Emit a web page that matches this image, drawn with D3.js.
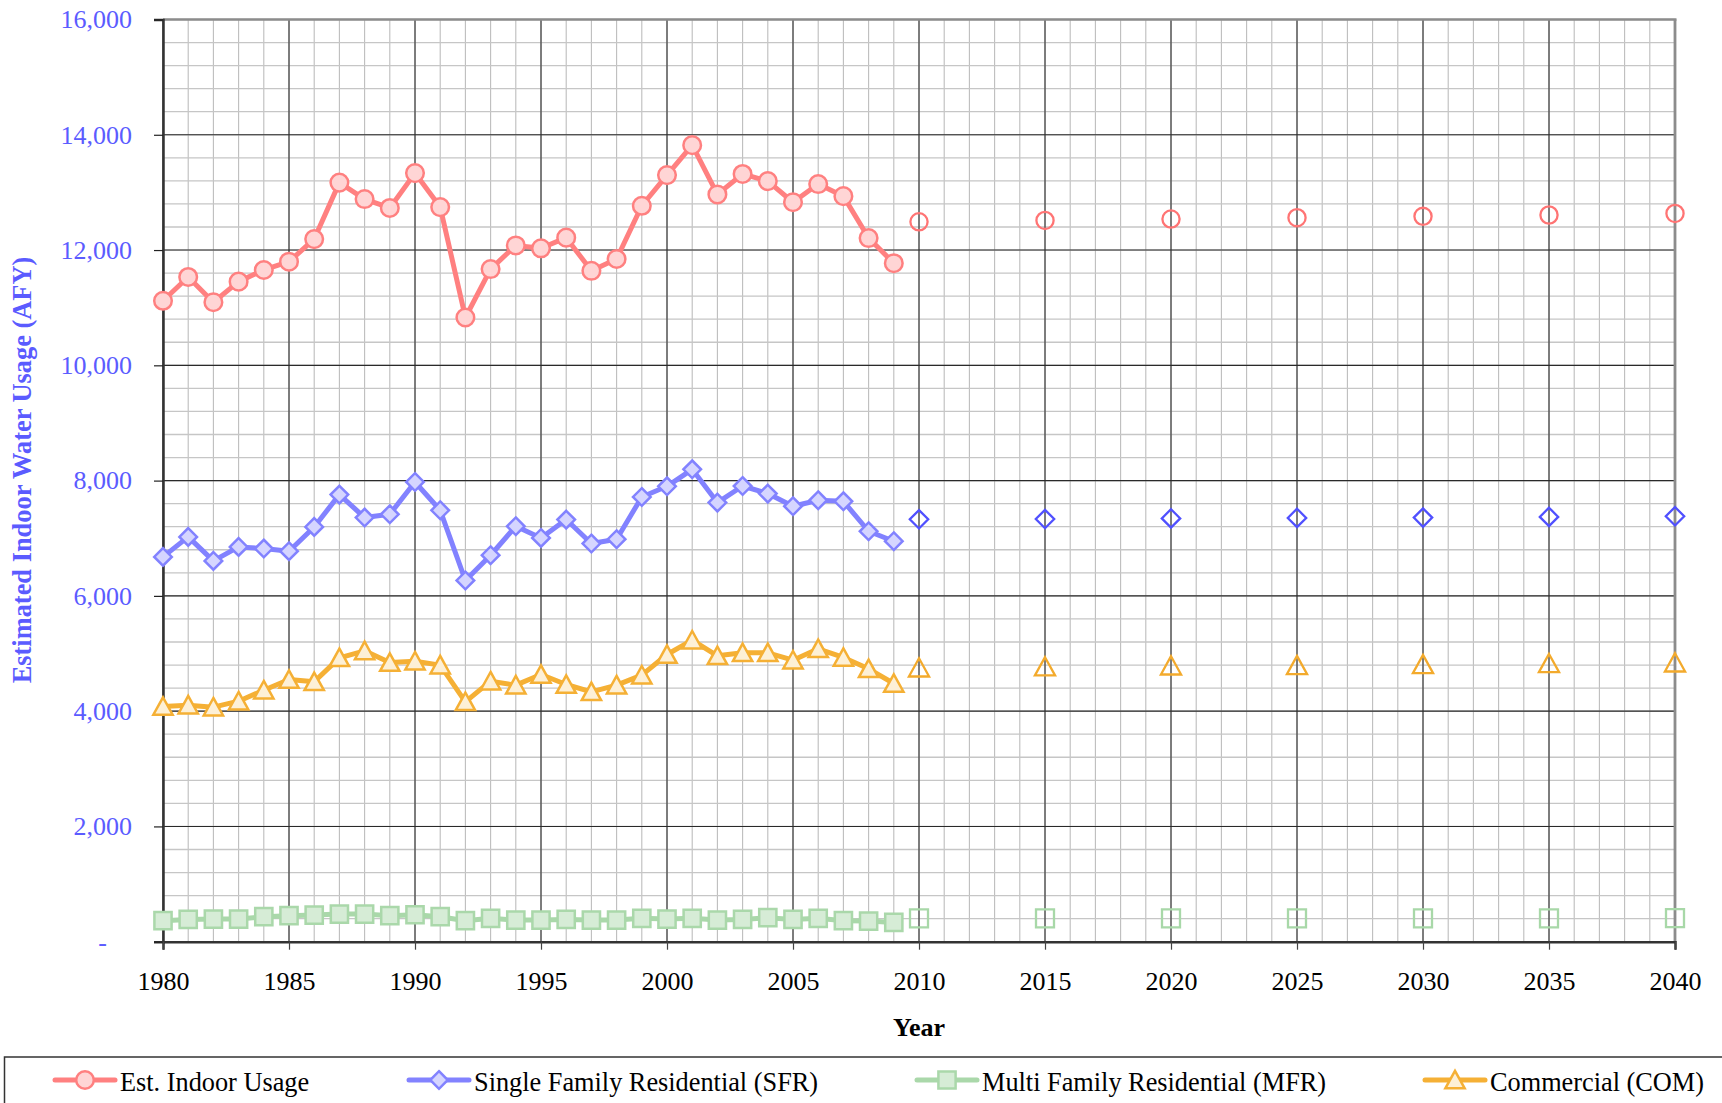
<!DOCTYPE html>
<html><head><meta charset="utf-8">
<script src="https://cdn.jsdelivr.net/npm/d3@7/dist/d3.min.js"></script>
<style>
html,body{margin:0;padding:0;background:#fff;}
svg{display:block;font-family:"Liberation Serif","Times New Roman",serif;}
svg text{font-family:"Liberation Serif","Times New Roman",serif !important;}
</style></head><body>
<svg id="chart" width="1722" height="1103"></svg>
<script>
// ---- data ----
const histYears = [1980,1981,1982,1983,1984,1985,1986,1987,1988,1989,1990,1991,1992,1993,1994,1995,1996,1997,1998,1999,2000,2001,2002,2003,2004,2005,2006,2007,2008,2009];
const projYears = [2010,2015,2020,2025,2030,2035,2040];

const indoorHist = [11120,11533,11095,11452,11654,11798,12190,13170,12885,12730,13335,12745,10830,11670,12080,12030,12215,11640,11845,12768,13300,13820,12965,13320,13195,12830,13145,12935,12208,11772];
const indoorProj = [12490,12514,12538,12562,12585,12608,12635];

const sfrHist = [6676,7023,6607,6850,6821,6775,7196,7757,7359,7416,7976,7485,6267,6705,7208,7005,7324,6908,6983,7716,7901,8196,7619,7906,7775,7555,7659,7641,7121,6948];
const sfrProj = [7329,7333,7344,7352,7358,7370,7381];

const mfrHist = [364,387,393,393,434,451,462,480,480,451,468,434,364,405,376,376,387,376,376,405,393,405,376,387,416,387,405,364,358,335];
const mfrProj = [405,405,405,405,405,405,408];

const comHist = [4081,4104,4069,4173,4364,4549,4509,4925,5046,4844,4867,4798,4162,4520,4451,4636,4462,4335,4451,4624,4983,5231,4960,5012,5012,4884,5081,4931,4734,4480];
const comProj = [4751,4769,4786,4792,4809,4826,4838];

const seriesNames = ["Est. Indoor Usage","Single Family Residential (SFR)","Multi Family Residential (MFR)","Commercial (COM)"];
const xTickLabels = [1980,1985,1990,1995,2000,2005,2010,2015,2020,2025,2030,2035,2040];
const yTickValues = [0,2000,4000,6000,8000,10000,12000,14000,16000];
const xTitle = "Year";
const yTitle = "Estimated Indoor Water Usage (AFY)";

// ---- layout ----
const svg = d3.select("#chart");
const L = 163, R = 1675, T = 19.5, B = 941.7;
const x = d3.scaleLinear().domain([1980, 2040]).range([L, R]);
const y = d3.scaleLinear().domain([0, 16000]).range([B, T]);
const FONT = "'Liberation Serif','Times New Roman',serif";

const styles = [
  {line:"#ff8080", fill:"#ffd5d5", stroke:"#ff8080", proj:"#ff7474", shape:"circle"},
  {line:"#8282ff", fill:"#d5d5ff", stroke:"#8282ff", proj:"#5050ff", shape:"diamond"},
  {line:"#aad8aa", fill:"#d6ecd6", stroke:"#aad8aa", proj:"#a8d8a8", shape:"square"},
  {line:"#f5b035", fill:"#fdf0d6", stroke:"#f5b035", proj:"#f3aa2c", shape:"triangle"}
];
const series = [
  {name:seriesNames[0], hist:indoorHist, proj:indoorProj, st:styles[0]},
  {name:seriesNames[1], hist:sfrHist, proj:sfrProj, st:styles[1]},
  {name:seriesNames[2], hist:mfrHist, proj:mfrProj, st:styles[2]},
  {name:seriesNames[3], hist:comHist, proj:comProj, st:styles[3]}
];

function markerPath(shape, s) {
  if (shape === "circle") { const p = d3.path(); p.arc(0,0,s,0,Math.PI*2); p.closePath(); return p.toString(); }
  if (shape === "diamond") return `M0,${-s}L${s},0L0,${s}L${-s},0Z`;
  if (shape === "square") return `M${-s},${-s}H${s}V${s}H${-s}Z`;
  if (shape === "triangle") return `M0,${-s*1.0}L${s*1.05},${s*0.9}L${-s*1.05},${s*0.9}Z`;
}
const histSize = {circle:8.8, diamond:8.8, square:8.6, triangle:9.2};
const projSize = {circle:8.6, diamond:9.2, square:9.0, triangle:9.6};

// ---- grid ----
const grid = svg.append("g");
grid.selectAll(".vminor").data(d3.range(1980, 2041)).enter().append("line")
  .attr("x1", d => x(d)).attr("x2", d => x(d)).attr("y1", T).attr("y2", B)
  .attr("stroke", "#bdbdbd").attr("stroke-width", 1.1);
grid.selectAll(".hminor").data(d3.range(0, 16001, 400)).enter().append("line")
  .attr("x1", L).attr("x2", R).attr("y1", d => y(d)).attr("y2", d => y(d))
  .attr("stroke", "#c6c6c6").attr("stroke-width", 1.3);
grid.selectAll(".vmajor").data(xTickLabels).enter().append("line")
  .attr("x1", d => x(d)).attr("x2", d => x(d)).attr("y1", T).attr("y2", B)
  .attr("stroke", "#1e1e1e").attr("stroke-width", 1);
grid.selectAll(".hmajor").data(yTickValues).enter().append("line")
  .attr("x1", L).attr("x2", R).attr("y1", d => y(d)).attr("y2", d => y(d))
  .attr("stroke", "#2a2a2a").attr("stroke-width", 1.1);

// border top & right
svg.append("line").attr("x1", L).attr("x2", R+1.5).attr("y1", T).attr("y2", T).attr("stroke", "#8c8c8c").attr("stroke-width", 2.5);
svg.append("line").attr("x1", R).attr("x2", R).attr("y1", T).attr("y2", B).attr("stroke", "#8c8c8c").attr("stroke-width", 2.8);

// ---- axes ----
const yAxis = svg.append("g").attr("transform", `translate(${L},0)`)
  .call(d3.axisLeft(y).tickValues(yTickValues).tickSize(9).tickPadding(22)
    .tickFormat(d => d === 0 ? "-" : d3.format(",")(d)));
yAxis.attr("font-family", null);
yAxis.select(".domain").attr("stroke", "#333").attr("stroke-width", 2.5);
yAxis.selectAll(".tick line").attr("stroke", "#222").attr("stroke-width", 1.2);
yAxis.selectAll(".tick text").attr("fill", "#5b5bff").attr("font-size", 26).style("font-family", FONT);
yAxis.selectAll(".tick text").filter(d => d === 0).attr("dx", -25);

const xAxis = svg.append("g").attr("transform", `translate(0,${B})`)
  .call(d3.axisBottom(x).tickValues(xTickLabels).tickSize(8).tickPadding(22).tickFormat(d3.format("d")));
xAxis.attr("font-family", null);
xAxis.select(".domain").attr("stroke", "#333").attr("stroke-width", 2.5);
xAxis.selectAll(".tick line").attr("stroke", "#444").attr("stroke-width", 1.2);
xAxis.selectAll(".tick text").attr("fill", "#000").attr("font-size", 26).style("font-family", FONT);

// ---- titles ----
svg.append("text").attr("x", (L+R)/2).attr("y", 1036).attr("text-anchor", "middle")
  .attr("font-size", 26).attr("font-weight", "bold").attr("fill", "#000").style("font-family", FONT).text(xTitle);
svg.append("text").attr("transform", "translate(31,470) rotate(-90)").attr("text-anchor", "middle")
  .attr("font-size", 26.4).attr("font-weight", "bold").attr("fill", "#5b5bff").style("font-family", FONT).text(yTitle);

// ---- series ----
const line = d3.line().x(d => x(d[0])).y(d => y(d[1]));
series.forEach(s => {
  const g = svg.append("g");
  const pts = histYears.map((yr, i) => [yr, s.hist[i]]);
  g.append("path").datum(pts).attr("d", line).attr("fill", "none")
    .attr("stroke", s.st.line).attr("stroke-width", 5).attr("stroke-linejoin", "round");
  g.selectAll(".hm").data(pts).enter().append("path")
    .attr("transform", d => `translate(${x(d[0])},${y(d[1])})`)
    .attr("d", markerPath(s.st.shape, histSize[s.st.shape]))
    .attr("fill", s.st.fill).attr("stroke", s.st.stroke).attr("stroke-width", 2.5);
  const pp = projYears.map((yr, i) => [yr, s.proj[i]]);
  g.selectAll(".pm").data(pp).enter().append("path")
    .attr("transform", d => `translate(${x(d[0])},${y(d[1])})`)
    .attr("d", markerPath(s.st.shape, projSize[s.st.shape]))
    .attr("fill", "none").attr("stroke", s.st.proj).attr("stroke-width", 2.3);
});

// ---- legend ----
svg.append("rect").attr("x", 4.5).attr("y", 1057).attr("width", 1740).attr("height", 80)
  .attr("fill", "#fff").attr("stroke", "#333").attr("stroke-width", 1.5);
const legX = [55, 409, 917, 1425];
series.forEach((s, i) => {
  const g = svg.append("g").attr("transform", `translate(${legX[i]},1080)`);
  g.append("line").attr("x1", 0).attr("x2", 60).attr("y1", 0).attr("y2", 0)
    .attr("stroke", s.st.line).attr("stroke-width", 5).attr("stroke-linecap", "round");
  g.append("path").attr("transform", "translate(30,0)")
    .attr("d", markerPath(s.st.shape, histSize[s.st.shape]))
    .attr("fill", s.st.fill).attr("stroke", s.st.stroke).attr("stroke-width", 2.5);
  g.append("text").attr("x", 65).attr("y", 11).attr("font-size", 26.3).attr("fill", "#000")
    .style("font-family", FONT).text(s.name);
});
</script>
</body></html>
